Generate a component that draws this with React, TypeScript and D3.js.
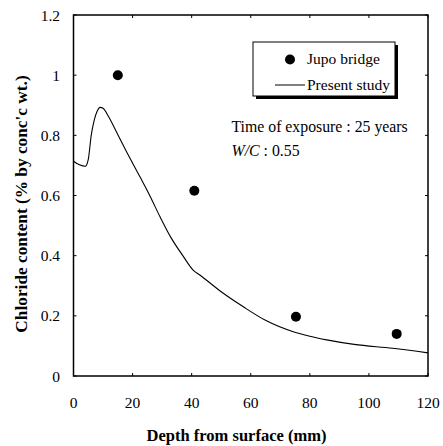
import React from "react";
import * as d3 from "d3";

const xTicks = [0, 20, 40, 60, 80, 100, 120];
const yTicks = [0, 0.2, 0.4, 0.6, 0.8, 1, 1.2];
const yTickLabels = ["0", "0.2", "0.4", "0.6", "0.8", "1", "1.2"];

const jupoDepth = [15, 40.9, 75.3, 109.4];
const jupoChloride = [1.0, 0.616, 0.197, 0.14];

const studyDepth = [0, 2, 4, 5, 6, 7, 8, 9, 10, 12, 14.6, 18, 22.5, 26, 29.3, 33, 37, 40.5, 43, 50, 57.5, 65, 74.4, 80, 85.7, 95, 108, 120];
const studyChloride = [0.714, 0.702, 0.697, 0.72, 0.8, 0.85, 0.88, 0.893, 0.89, 0.86, 0.81, 0.745, 0.662, 0.596, 0.529, 0.46, 0.4, 0.352, 0.334, 0.28, 0.23, 0.185, 0.147, 0.132, 0.12, 0.105, 0.092, 0.077];

export default function App() {
  const W = 443, H = 446;
  const L = 73.5, R = 428, T = 15, B = 376;
  const x = d3.scaleLinear().domain([0, 120]).range([L, R]);
  const y = d3.scaleLinear().domain([0, 1.2]).range([B, T]);
  const line = d3.line<number>().x((d, i) => x(studyDepth[i])).y((d) => y(d)).curve(d3.curveMonotoneX);
  const font = "Liberation Serif, Times New Roman, Times, DejaVu Serif, serif";
  const tk = 3;
  return (
    <svg width={W} height={H} style={{ position: "absolute", left: 0, top: 0, background: "#fff", fontFamily: font }}>
      <rect x={L} y={T} width={R - L} height={B - T} fill="none" stroke="#000" strokeWidth={1.5} />
      {xTicks.map((t) => (
        <g key={"x" + t}>
          <line x1={x(t)} x2={x(t)} y1={B} y2={B - tk} stroke="#000" />
          <line x1={x(t)} x2={x(t)} y1={T} y2={T + tk} stroke="#000" />
          <text x={x(t)} y={408} textAnchor="middle" fontSize={15.5} style={{ fontFamily: font }}>{t}</text>
        </g>
      ))}
      {yTicks.map((t, i) => (
        <g key={"y" + t}>
          <line x1={L} x2={L + tk} y1={y(t)} y2={y(t)} stroke="#000" />
          <line x1={R} x2={R - tk} y1={y(t)} y2={y(t)} stroke="#000" />
          <text x={60} y={y(t) + 5.5} textAnchor="end" fontSize={15.5} style={{ fontFamily: font }}>{yTickLabels[i]}</text>
        </g>
      ))}
      <path d={line(studyChloride) || ""} fill="none" stroke="#000" strokeWidth={1.1} />
      {jupoDepth.map((d, i) => (
        <circle key={"p" + i} cx={x(d)} cy={y(jupoChloride[i])} r={5} fill="#000" />
      ))}
      <rect x={256} y={45} width={142} height={54} fill="#000" />
      <rect x={253} y={42} width={142} height={54} fill="#fff" stroke="#000" strokeWidth={1} />
      <circle cx={290} cy={59.5} r={5} fill="#000" />
      <text x={307} y={63.5} fontSize={15.5} style={{ fontFamily: font }}>Jupo bridge</text>
      <line x1={275} x2={305} y1={85} y2={85} stroke="#000" strokeWidth={1} />
      <text x={307} y={89.5} fontSize={15.5} style={{ fontFamily: font }}>Present study</text>
      <text x={231.5} y={131.5} fontSize={15.8} style={{ fontFamily: font }}>Time of exposure : 25 years</text>
      <text x={231.5} y={156} fontSize={15.8} style={{ fontFamily: font }}><tspan fontStyle="italic">W/C</tspan> : 0.55</text>
      <text x={236.5} y={441} textAnchor="middle" fontSize={16.5} fontWeight="bold" style={{ fontFamily: font }}>Depth from surface (mm)</text>
      <text transform={`translate(27, 204) rotate(-90)`} textAnchor="middle" fontSize={17.3} fontWeight="bold" style={{ fontFamily: font }}>Chloride content (% by conc'c wt.)</text>
    </svg>
  );
}
